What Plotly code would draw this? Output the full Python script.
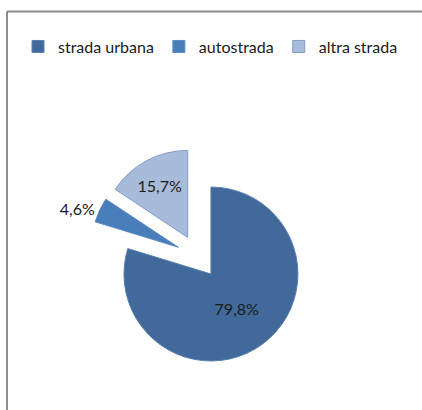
import plotly.graph_objects as go

labels = ["strada urbana", "autostrada", "altra strada"]
values = [79.8, 4.6, 15.7]
text_labels = ["79,8%", "4,6%", "15,7%"]
colors = ["#41699A", "#4A7EBB", "#A8BBDA"]
borders = ["#5A80AE", "#5A8AC2", "#7F9CC9"]

W, H = 422, 410
cx, cy, side = 198.0, 269.0, 228.0

fig = go.Figure(go.Pie(
    labels=labels,
    values=values,
    text=text_labels,
    textinfo="text",
    textposition=["inside", "outside", "inside"],
    insidetextorientation="horizontal",
    sort=False,
    direction="clockwise",
    rotation=0,
    pull=[0.25, 0.25, 0.25],
    marker=dict(colors=colors, line=dict(color=borders, width=1)),
    textfont=dict(family="Lato, Open Sans, sans-serif", size=16, color="#1a1a1a"),
    domain=dict(x=[(cx - side / 2) / W, (cx + side / 2) / W],
                y=[1 - (cy + side / 2) / H, 1 - (cy - side / 2) / H]),
    hoverinfo="label+percent",
))

fig.update_layout(
    width=W, height=H,
    margin=dict(l=0, r=0, t=0, b=0),
    paper_bgcolor="white",
    plot_bgcolor="white",
    showlegend=True,
    legend=dict(orientation="h", x=18 / W, y=1 - 31 / H, xanchor="left", yanchor="top",
                font=dict(family="Lato, Open Sans, sans-serif", size=16, color="#1a1a1a"),
                itemwidth=30, traceorder="normal"),
    shapes=[
        dict(type="line", xref="paper", yref="paper", x0=7 / W, x1=1.05, y0=1 - 12 / H, y1=1 - 12 / H,
             line=dict(color="#8c8c8c", width=2)),
        dict(type="line", xref="paper", yref="paper", x0=7 / W, x1=7 / W, y0=-0.05, y1=1 - 12 / H,
             line=dict(color="#8c8c8c", width=2)),
    ],
)

fig.write_html("out.html", config={"displayModeBar": False},
               post_script="document.body.style.margin='0';")
